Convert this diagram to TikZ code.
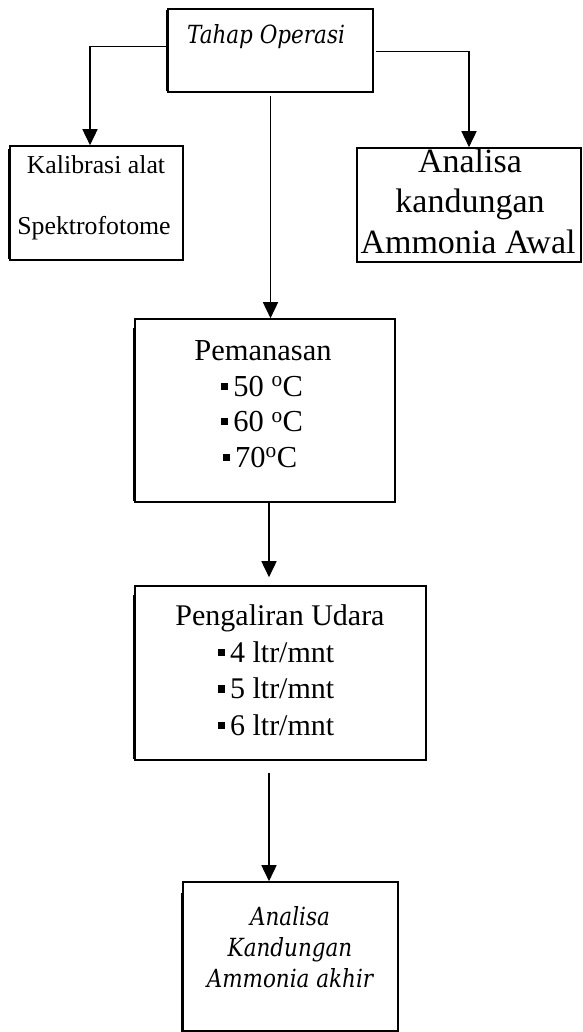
\documentclass[tikz,border=0pt]{standalone}
\usepackage{fontspec}
\setmainfont{Liberation Serif}
\newfontfamily\notefont[FakeStretch=0.86]{DejaVu Serif}
\usetikzlibrary{arrows.meta}

% small filled square used as a list bullet
\newcommand{\sqbullet}{\rule[0.2em]{0.24em}{0.24em}\hspace{0.17em}}

\tikzset{
  box/.style={draw, line width=1.6pt, inner sep=0pt},
  heavyside/.style={line width=3.2pt},
  arr/.style={-{Triangle[width=15pt,length=16pt]}, line width=1.6pt},
  lbl/.style={anchor=base, inner sep=0pt},
  plain/.style={lbl, font=\fontsize{#1}{#1}\selectfont},
  slant/.style={lbl, font=\notefont\itshape\fontsize{#1}{#1}\selectfont},
}

\begin{document}
\begin{tikzpicture}[x=1pt, y=-1pt]
\useasboundingbox[fill=white] (0,0) rectangle (582,1032);

% boxes
\node[box, minimum width=205pt, minimum height=83pt]  (top) at (270.5,50.5) {};
\node[box, minimum width=173pt, minimum height=114pt] (kal) at (96.5,203) {};
\node[box, minimum width=224pt, minimum height=114pt] (ana) at (469,205) {};
\node[box, minimum width=260pt, minimum height=183pt] (pem) at (265,410.5) {};
\node[box, minimum width=291pt, minimum height=174pt] (pen) at (280.5,673) {};
\node[box, minimum width=215pt, minimum height=149pt] (fin) at (290.5,956.5) {};

% heavier left sides
\draw[heavyside] ([yshift=-2pt]top.north west) -- ([yshift=2pt]top.south west);
\draw[heavyside] ([yshift=-4pt]kal.north west) -- ([yshift=2pt]kal.south west);
\draw[heavyside] ([yshift=-10pt]pem.north west) -- ([yshift=2pt]pem.south west);
\draw[heavyside] ([yshift=-10pt]pen.north west) -- ([yshift=2pt]pen.south west);
\draw[heavyside] ([yshift=-12pt]fin.north west) -- (fin.south west);

% texts
\node[slant=25] (t1) at (266,43.3) {Tahap Operasi};

\node[plain=25.8] (k1) at (96,174) {Kalibrasi alat};
\node[plain=25.8] (k2) at (94,235) {Spektrofotome};

\node[plain=34] (a1) at (470,173) {Analisa};
\node[plain=34] (a2) at (470,213) {kandungan};
\node[plain=34] (a3) at (468,253) {Ammonia Awal};

\node[plain=30.5] (p0) at (263,360) {Pemanasan};
\node[plain=30.5] (p1) at (262,396) {\sqbullet 50 \textsuperscript{o}C};
\node[plain=30.5] (p2) at (262,431.5) {\sqbullet 60 \textsuperscript{o}C};
\node[plain=30.5] (p3) at (260,467) {\sqbullet 70\textsuperscript{o}C};

\node[plain=30] (u0) at (280,625) {Pengaliran Udara};
\node[plain=30] (u1) at (276,662) {\sqbullet 4 ltr/mnt};
\node[plain=30] (u2) at (276,698.5) {\sqbullet 5 ltr/mnt};
\node[plain=30] (u3) at (276,735) {\sqbullet 6 ltr/mnt};

\node[slant=25] (f1) at (290,925) {Analisa};
\node[slant=25] (f2) at (290,956) {Kandungan};
\node[slant=25] (f3) at (290,987) {Ammonia akhir};

% connectors
\draw[arr] ([yshift=3.8pt]top.west) -| ([xshift=-6.5pt]kal.north);
\draw[arr] ([xshift=2pt,yshift=-1.2pt]top.east) -| (ana.north);
\draw[arr] ([yshift=-3pt]top.south) -- (top.south |- pem.north);
\draw[arr] ([xshift=4pt]pem.south) -- ([xshift=-11.5pt,yshift=8pt]pen.north);
\draw[arr] ([xshift=-11.5pt,yshift=-12pt]pen.south) -- ([xshift=-21.5pt]fin.north);
\end{tikzpicture}
\end{document}
